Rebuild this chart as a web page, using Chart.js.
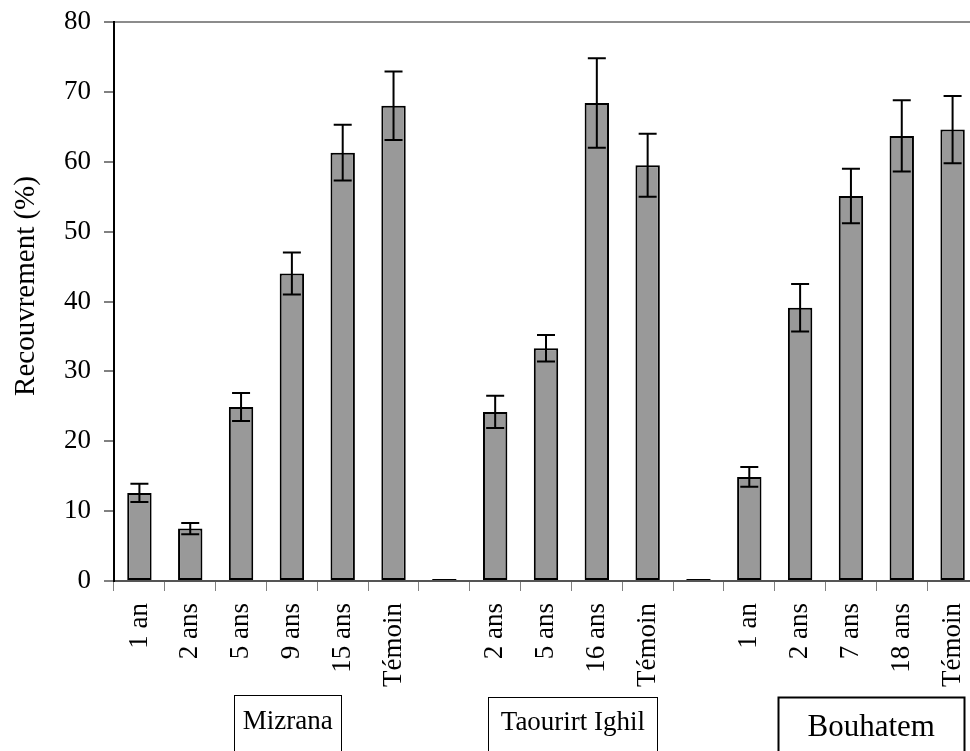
<!DOCTYPE html>
<html>
<head>
<meta charset="utf-8">
<script src="https://cdn.jsdelivr.net/npm/chart.js@4/dist/chart.umd.min.js"></script>
<style>
  html, body { margin: 0; padding: 0; background: #fff; overflow: hidden; }
  #wrap { width: 970px; height: 751px; overflow: hidden; }
</style>
</head>
<body>
<div id="wrap"><canvas id="c" width="980" height="751"></canvas></div>
<script>
// Ages since abandonment per site; blank slots separate the three sites
const categories = ['1 an', '2 ans', '5 ans', '9 ans', '15 ans', 'Témoin', '',
                    '2 ans', '5 ans', '16 ans', 'Témoin', '',
                    '1 an', '2 ans', '7 ans', '18 ans', 'Témoin'];
// Mean cover (%) and its standard error
const recouvrement = [12.6, 7.5, 24.9, 44.0, 61.3, 68.0, 0,
                      24.2, 33.3, 68.4, 59.5, 0,
                      14.9, 39.1, 55.1, 63.7, 64.6];
const erreur = [1.3, 0.8, 2.0, 3.0, 4.0, 4.9, null,
                2.3, 1.9, 6.4, 4.5, null,
                1.4, 3.4, 3.9, 5.1, 4.8];
const sites = ['Mizrana', 'Taourirt Ighil', 'Bouhatem'];
const yTicks = [0, 10, 20, 30, 40, 50, 60, 70, 80];
const yTitle = 'Recouvrement (%)';

const SERIF = '"Liberation Serif", "Times New Roman", serif';

// Error bars with caps at both ends
const errorBars = {
  id: 'errorBars',
  afterDatasetsDraw(chart) {
    const ctx = chart.ctx;
    const y = chart.scales.y;
    const meta = chart.getDatasetMeta(0);
    ctx.save();
    ctx.strokeStyle = '#000';
    ctx.lineWidth = 2;
    recouvrement.forEach((v, i) => {
      const e = erreur[i];
      if (e == null) return;
      const x = meta.data[i].x;
      const yt = y.getPixelForValue(v + e);
      const yb = y.getPixelForValue(v - e);
      const hw = 9;
      ctx.beginPath();
      ctx.moveTo(x, yt); ctx.lineTo(x, yb);
      ctx.moveTo(x - hw, yt); ctx.lineTo(x + hw, yt);
      ctx.moveTo(x - hw, yb); ctx.lineTo(x + hw, yb);
      ctx.stroke();
    });
    ctx.restore();
  }
};

// Framed site names under each group of bars, plus the vertical axis title
const annotations = {
  id: 'annotations',
  afterDraw(chart) {
    const ctx = chart.ctx;
    const xs = chart.scales.x;
    const boxes = [
      { at: 2.92, w: 107, top: 695, h: 56, size: 27, lw: 1, ty: 722 },
      { at: 8.53, w: 169, top: 697, h: 56, size: 27, lw: 1, ty: 723 },
      { at: 14.4, w: 186, top: 697, h: 60, size: 31, lw: 2, ty: 728 }
    ];
    ctx.save();
    boxes.forEach((b, k) => {
      const cx = xs.getPixelForValue(b.at);
      ctx.strokeStyle = '#000';
      ctx.lineWidth = b.lw;
      ctx.strokeRect(Math.round(cx - b.w / 2) + 0.5, b.top + 0.5, b.w, b.h);
      ctx.fillStyle = '#000';
      ctx.font = b.size + 'px ' + SERIF;
      ctx.textAlign = 'center';
      ctx.textBaseline = 'middle';
      ctx.fillText(sites[k], cx, b.ty);
    });
    ctx.translate(26, 286);
    ctx.rotate(-Math.PI / 2);
    ctx.font = '29px ' + SERIF;
    ctx.textAlign = 'center';
    ctx.textBaseline = 'middle';
    ctx.fillStyle = '#000';
    ctx.fillText(yTitle, 0, 0);
    ctx.restore();
  }
};

new Chart(document.getElementById('c'), {
  type: 'bar',
  data: {
    labels: categories,
    datasets: [{
      data: recouvrement,
      backgroundColor: '#999999',
      borderColor: '#000000',
      borderWidth: 2,
      borderSkipped: false,
      barPercentage: 0.48,
      categoryPercentage: 1.0,
      minBarLength: 2
    }]
  },
  options: {
    responsive: false,
    animation: false,
    events: [],
    layout: { padding: { top: 22, left: 0, right: 2, bottom: 0 } },
    plugins: { legend: { display: false }, tooltip: { enabled: false } },
    scales: {
      x: {
        offset: true,
        afterFit(scale) {
          scale.height = 170;
          scale.paddingLeft = 0;
          scale.paddingRight = 0;
        },
        grid: {
          display: true,
          drawOnChartArea: false,
          offset: true,
          tickLength: 10,
          tickColor: '#808080',
          lineWidth: 1
        },
        border: { display: true, color: '#555555', width: 2 },
        ticks: {
          autoSkip: false,
          maxRotation: 90,
          minRotation: 90,
          padding: 12,
          color: '#000',
          font: { family: SERIF, size: 27 }
        }
      },
      y: {
        min: 0,
        max: 80,
        afterFit(scale) {
          scale.width = 114;
          scale.paddingTop = 0;
          scale.paddingBottom = 0;
        },
        afterBuildTicks(scale) { scale.ticks = yTicks.map(v => ({ value: v })); },
        grid: {
          display: true,
          drawOnChartArea: true,
          color: (c) => (c.tick && c.tick.value === 80) ? '#8c8c8c' : 'rgba(0,0,0,0)',
          tickColor: '#808080',
          tickLength: 10,
          lineWidth: 2
        },
        border: { display: true, color: '#000000', width: 2 },
        ticks: {
          padding: 13,
          color: '#000',
          font: { family: SERIF, size: 27 }
        }
      }
    }
  },
  plugins: [errorBars, annotations]
});
</script>
</body>
</html>
